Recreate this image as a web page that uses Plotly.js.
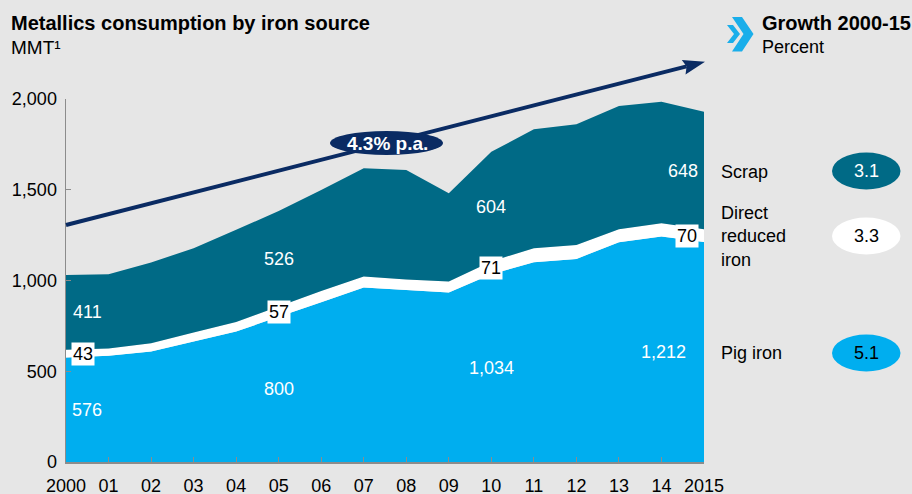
<!DOCTYPE html>
<html>
<head>
<meta charset="utf-8">
<script src="https://cdn.plot.ly/plotly-3.0.1.min.js"></script>
<style>
  html, body { margin: 0; padding: 0; background: #E6E6E6; }
  #chart { width: 912px; height: 494px; }
</style>
</head>
<body>
<div id="chart"></div>
<script>
// ---------------- DATA ----------------
const years = [2000, 2001, 2002, 2003, 2004, 2005, 2006, 2007, 2008, 2009, 2010, 2011, 2012, 2013, 2014, 2015];
const xTickText = ['2000', '01', '02', '03', '04', '05', '06', '07', '08', '09', '10', '11', '12', '13', '14', '2015'];
const pigIron = [576, 585, 609, 664, 719, 800, 880, 961, 948, 934, 1034, 1101, 1119, 1211, 1242, 1212];
const directReducedIron = [43, 41, 45, 49, 53, 57, 62, 61, 58, 60, 71, 77, 77, 72, 74, 70];
const scrap = [411, 409, 445, 465, 507, 526, 557, 596, 603, 487, 604, 655, 665, 678, 669, 648];
const yTickVals = [0, 500, 1000, 1500, 2000];
const labelledYears = [2000, 2005, 2010, 2015];
const growthNames = ['Scrap', 'Direct<br>reduced<br>iron', 'Pig iron'];
const growthRates = ['3.1', '3.3', '5.1'];
const totalGrowthText = '4.3% p.a.';

// ---------------- STYLE ----------------
const BG = '#E6E6E6';
const TEAL = '#006A86';
const BLUE = '#00AEEF';
const NAVY = '#0A2B63';
const FONT = 'Arial, "Liberation Sans", sans-serif';

const W = 912, H = 494;
const M = { l: 66, r: 208, t: 99, b: 32 };
const PW = W - M.l - M.r, PH = H - M.t - M.b;
const px = (x) => (x - M.l) / PW;          // pixel -> paper x
const py = (y) => (M.t + PH - y) / PH;     // pixel -> paper y

const traces = [
  { name: 'Pig iron', x: years, y: pigIron, stackgroup: 'one', mode: 'none', fillcolor: BLUE, hoverinfo: 'skip' },
  { name: 'Direct reduced iron', x: years, y: directReducedIron, stackgroup: 'one', mode: 'none', fillcolor: '#FFFFFF', hoverinfo: 'skip' },
  { name: 'Scrap', x: years, y: scrap, stackgroup: 'one', mode: 'none', fillcolor: TEAL, hoverinfo: 'skip' }
];

const fmt = (v) => v.toLocaleString('en-US');
const annotations = [];
const shapes = [];

// value labels inside the areas
const labelXOffset = { 2000: 0.5, 2005: 0, 2010: 0, 2015: -0.5 };
labelledYears.forEach((yr) => {
  const i = years.indexOf(yr);
  const p = pigIron[i], d = directReducedIron[i], s = scrap[i];
  const xo = yr + labelXOffset[yr];
  annotations.push({ x: yr === 2015 ? yr - 0.95 : xo, y: p / 2, xref: 'x', yref: 'y', text: fmt(p), showarrow: false,
    xanchor: 'center', yanchor: 'middle', font: { family: FONT, size: 18, color: '#FFFFFF' } });
  annotations.push({ x: yr === 2015 ? yr - 0.4 : (yr === 2000 ? yr + 0.4 : xo), y: p + d / 2, xref: 'x', yref: 'y', text: fmt(d), showarrow: false,
    xanchor: 'center', yanchor: 'middle', bgcolor: '#FFFFFF', borderpad: 1, font: { family: FONT, size: 18, color: '#000000' } });
  annotations.push({ x: xo, y: p + d + s / 2, xref: 'x', yref: 'y', text: fmt(s), showarrow: false,
    xanchor: 'center', yanchor: 'middle', font: { family: FONT, size: 18, color: '#FFFFFF' } });
});

// titles
const textAt = (x, y, text, size, color, extra) => Object.assign({
  xref: 'paper', yref: 'paper', x: px(x), y: py(y), xanchor: 'left', yanchor: 'middle',
  text: text, showarrow: false, font: { family: FONT, size: size, color: color } }, extra || {});
annotations.push(textAt(9, 23, '<b>Metallics consumption by iron source</b>', 20, '#000'));
annotations.push(textAt(9, 47, 'MMT¹', 19, '#000'));
annotations.push(textAt(760, 23, '<b>Growth 2000-15</b>', 20, '#000'));
annotations.push(textAt(760, 47, 'Percent', 18, '#000'));

// chevron icon
const poly = (pts) => 'M' + pts.map(p => px(p[0]) + ',' + py(p[1])).join(' L') + ' Z';
shapes.push({ type: 'path', xref: 'paper', yref: 'paper', fillcolor: '#1AAEEA', line: { width: 0 },
  path: poly([[732, 17], [742, 17], [753.5, 34], [742, 51.5], [732, 51.5], [743.5, 34]]) });
shapes.push({ type: 'path', xref: 'paper', yref: 'paper', fillcolor: '#1AAEEA', line: { width: 0 },
  path: poly([[727, 25], [733, 25], [740, 34], [733, 43], [727, 43], [734, 34]]) });

// trend arrow
const tail = [66, 225], tip = [705, 61.7];
const dx = tip[0] - tail[0], dy = tip[1] - tail[1], len = Math.hypot(dx, dy);
const ux = dx / len, uy = dy / len, nx = -uy, ny = ux;
const headLen = 22, headHalf = 7.5;
const base = [tip[0] - ux * headLen, tip[1] - uy * headLen];
const notch = [tip[0] - ux * (headLen - 3), tip[1] - uy * (headLen - 3)];
shapes.push({ type: 'line', xref: 'paper', yref: 'paper', x0: px(tail[0]), y0: py(tail[1]),
  x1: px(notch[0]), y1: py(notch[1]), line: { color: NAVY, width: 4 } });
shapes.push({ type: 'path', xref: 'paper', yref: 'paper', fillcolor: NAVY, line: { width: 0 },
  path: poly([tip, [base[0] + nx * headHalf, base[1] + ny * headHalf], notch, [base[0] - nx * headHalf, base[1] - ny * headHalf]]) });

// growth oval on arrow
shapes.push({ type: 'circle', xref: 'paper', yref: 'paper', x0: px(330), x1: px(443), y0: py(155), y1: py(131),
  fillcolor: NAVY, line: { width: 0 } });
annotations.push(textAt(387, 143, '<b>' + totalGrowthText + '</b>', 19, '#FFFFFF', { xanchor: 'center' }));

// right-hand growth legend
const legendY = [171, 236, 353];
const legendTextY = [171.5, 236.5, 353];
const ovalFill = [TEAL, '#FFFFFF', BLUE];
const ovalText = ['#FFFFFF', '#000000', '#000000'];
growthNames.forEach((n, i) => {
  annotations.push(textAt(719, legendTextY[i], n, 18, '#000', { align: 'left' }));
  shapes.push({ type: 'circle', xref: 'paper', yref: 'paper', x0: px(832), x1: px(900.5),
    y0: py(legendY[i] + 18.5), y1: py(legendY[i] - 18.5), fillcolor: ovalFill[i], line: { width: 0 } });
  annotations.push(textAt(866.3, legendY[i], growthRates[i], 18, ovalText[i], { xanchor: 'center' }));
});

const layout = {
  width: W, height: H,
  margin: M,
  paper_bgcolor: BG, plot_bgcolor: BG,
  showlegend: false,
  font: { family: FONT, size: 18, color: '#000' },
  xaxis: {
    range: [2000, 2015], tickmode: 'array', tickvals: years, ticktext: xTickText,
    showgrid: false, zeroline: false, showline: true, linecolor: '#8C8C8C', linewidth: 1.5,
    ticks: 'inside', ticklen: 5, tickcolor: '#8C8C8C', tickwidth: 1,
    tickfont: { family: FONT, size: 18, color: '#000' }, ticklabelstandoff: 7, fixedrange: true
  },
  yaxis: {
    range: [0, 2000], tickmode: 'array', tickvals: yTickVals, ticktext: yTickVals.map(fmt),
    showgrid: false, zeroline: false, showline: true, linecolor: '#8C8C8C', linewidth: 1.5,
    ticks: 'inside', ticklen: 5, tickcolor: '#8C8C8C', tickwidth: 1,
    tickfont: { family: FONT, size: 18, color: '#000' }, ticklabelstandoff: 4, fixedrange: true
  },
  shapes: shapes,
  annotations: annotations
};

Plotly.newPlot('chart', traces, layout, { displayModeBar: false, staticPlot: true });
</script>
</body>
</html>
